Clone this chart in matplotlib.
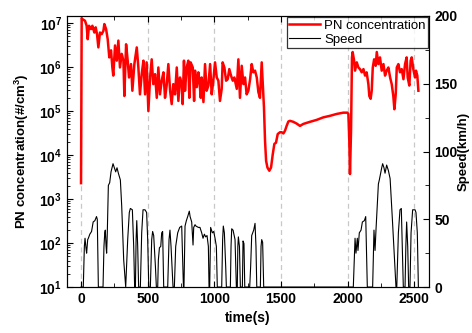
import matplotlib
matplotlib.use('Agg')

import math
import matplotlib.pyplot as plt
from matplotlib.ticker import FuncFormatter, MultipleLocator, LogLocator, FixedLocator, NullFormatter

plt.rcParams['font.family'] = ['Liberation Sans', 'DejaVu Sans']
plt.rcParams['mathtext.fontset'] = 'custom'
plt.rcParams['mathtext.rm'] = 'Liberation Sans:bold'
plt.rcParams['mathtext.bf'] = 'Liberation Sans:bold'
plt.rcParams['mathtext.it'] = 'Liberation Sans:bold'

# PN concentration (#/cm3)
pn_time = [0, 5, 10, 30, 42, 50, 60, 75, 85, 100, 110, 120, 130, 142, 155, 168, 175, 188,
           200, 212, 225, 235, 242, 255, 268, 280, 292, 305, 318, 325, 338, 350, 360, 375,
           385, 400, 418, 430, 442, 455, 468, 480, 492, 505, 518, 530, 542, 555, 568, 580,
           592, 605, 618, 630, 642, 655, 668, 680, 692, 705, 718, 730, 742, 755, 762, 772,
           780, 792, 805, 812, 822, 838, 848, 855, 868, 880, 888, 898, 905, 918, 930, 942,
           955, 968, 980, 992, 1005, 1018, 1030, 1042, 1055, 1062, 1075, 1088, 1100, 1112,
           1125, 1138, 1150, 1168, 1180, 1192, 1205, 1218, 1230, 1242, 1255, 1268, 1280,
           1292, 1305, 1318, 1330, 1342, 1355, 1362, 1372, 1380, 1388, 1398, 1412, 1425,
           1438, 1450, 1462, 1475, 1492, 1505, 1518, 1530, 1542, 1555, 1567, 1592, 1617,
           1642, 1667, 1717, 1767, 1817, 1867, 1917, 1967, 1997, 2005, 2012, 2017, 2025,
           2032, 2037, 2048, 2055, 2068, 2080, 2092, 2105, 2118, 2130, 2142, 2155, 2162,
           2172, 2180, 2188, 2198, 2210, 2218, 2230, 2242, 2255, 2268, 2280, 2292, 2305,
           2318, 2330, 2342, 2350, 2360, 2368, 2380, 2392, 2405, 2418, 2430, 2442, 2450,
           2462, 2472, 2480, 2492, 2505, 2512, 2522, 2530]
pn_conc = [2.3e3, 1.3e7, 1.23e7, 1.13e7, 8.7e6, 4.3e6, 8.7e6, 7.3e6, 8.7e6, 6.1e6, 8.0e6,
           5.6e6, 2.8e6, 6.1e6, 5.6e6, 6.7e6, 9.5e6, 7.3e6, 4.3e6, 1.66e6, 2.4e6, 9.8e5,
           6.4e5, 3.1e6, 1.4e6, 4.0e6, 9.8e5, 2.0e6, 1.4e6, 2.2e5, 3.3e6, 1.4e6, 5.8e5,
           1.17e6, 2.9e5, 1.17e6, 2.8e6, 9.8e5, 2.4e5, 6.9e5, 1.4e6, 2.4e5, 1.28e6, 1.0e5,
           5.8e5, 1.5e6, 4.1e5, 6.9e5, 2.0e5, 9.8e5, 2.4e5, 4.9e5, 7.6e5, 2.0e5, 3.8e5,
           1.17e6, 2.9e5, 1.44e5, 4.1e5, 2.4e5, 9.8e5, 1.7e5, 5.8e5, 4.1e5, 1.44e5, 1.4e6,
           2.9e5, 9.8e5, 1.4e6, 2.0e5, 1.28e6, 9.8e5, 1.7e5, 8.3e5, 3.5e5, 7.6e5, 4.9e5,
           2.0e5, 5.8e5, 1.6e5, 1.17e6, 2.9e5, 3.8e5, 1.17e6, 2.4e5, 4.9e5, 1.28e6, 5.8e5,
           4.9e5, 1.7e5, 3.2e5, 1.28e6, 9.8e5, 4.9e5, 5.3e5, 9.0e5, 6.4e5, 4.9e5, 5.8e5,
           3.2e5, 1.5e6, 2.0e5, 1.07e6, 4.1e5, 5.8e5, 2.4e5, 2.9e5, 5.3e5, 1.17e6, 7.6e5,
           8.3e5, 5.8e5, 2.7e5, 2.0e5, 1.28e6, 4.9e5, 1.2e5, 2.1e4, 7.4e3, 5.2e3, 4.4e3,
           5.2e3, 1.05e4, 1.8e4, 1.9e4, 3.0e4, 3.3e4, 3.3e4, 3.1e4, 3.6e4, 4.6e4, 5.8e4,
           6.0e4, 5.7e4, 5.2e4, 4.6e4, 5.1e4, 5.7e4, 6.3e4, 7.2e4, 7.8e4, 8.6e4, 9.2e4,
           9.2e4, 8.6e4, 2.1e4, 3.7e3, 3.6e4, 1.66e6, 2.2e6, 1.4e6, 8.3e5, 1.28e6, 9.8e5,
           9.0e5, 7.6e5, 9.0e5, 6.4e5, 7.6e5, 4.1e5, 2.2e5, 1.9e5, 2.9e5, 9.8e5, 1.5e6,
           1.07e6, 2.2e6, 1.17e6, 1.66e6, 8.3e5, 1.17e6, 6.4e5, 8.3e5, 9.8e5, 5.8e5, 4.1e5,
           2.2e5, 1.1e5, 2.4e5, 9.8e5, 1.17e6, 7.6e5, 9.0e5, 5.3e5, 1.17e6, 1.66e6, 5.8e5,
           3.8e5, 1.4e6, 1.66e6, 9.0e5, 5.8e5, 8.3e5, 6.4e5, 2.9e5]

# vehicle speed (km/h)
spd_time = [0, 17, 25, 30, 38, 42, 50, 55, 66, 79, 91, 104, 116, 122, 130,
            165, 172, 178, 182, 188, 192, 197, 205, 215, 225, 240, 250, 260, 270, 280, 295,
            305, 320, 335,
            350, 362, 370, 385, 395, 402, 408, 413, 418, 425, 432, 445, 455, 465, 480, 492,
            500, 508,
            520, 530, 537, 545, 558, 565, 575, 580, 588, 598, 605, 612, 620,
            650, 660, 667, 675, 690, 700, 710, 725, 740, 755, 762, 768,
            772, 780, 790, 800, 812, 818, 830, 840, 845, 855, 862, 880, 892, 905, 915, 925,
            935, 945, 955, 960, 965, 972, 985, 995, 1005, 1015, 1022,
            1055, 1062, 1067, 1075, 1085, 1090, 1120, 1125, 1130, 1140, 1155, 1165,
            1172, 1176, 1180, 1188, 1195, 1210, 1215, 1222, 1228,
            1265, 1272, 1280, 1295, 1305, 1312, 1318, 1345, 1350, 1355, 1362, 1370,
            2042, 2055, 2062, 2072, 2077, 2087, 2100, 2110, 2125, 2135, 2147,
            2187, 2197, 2205, 2212, 2230, 2237, 2255, 2262, 2272, 2280, 2292, 2305, 2318,
            2335, 2362, 2368, 2380, 2392, 2402, 2417, 2430, 2436, 2442, 2450, 2457,
            2467, 2475, 2487, 2505, 2512, 2522, 2530]
spd_val = [0, 0, 30, 36, 28, 25, 35, 36, 39, 41, 48, 49, 52, 50, 0,
           0, 30, 40, 42, 30, 25, 40, 75, 77, 85, 91, 88, 85, 88, 84, 79,
           60, 20, 0,
           35, 55, 58, 57, 30, 0, 0, 35, 49, 30, 0, 0, 40, 57, 57, 55,
           35, 0,
           0, 35, 41, 38, 15, 0, 0, 20, 29, 30, 40, 41, 0,
           0, 35, 42, 30, 0, 0, 30, 40, 44, 45, 20, 0,
           0, 45, 49, 52, 56, 52, 48, 31, 44, 46, 45, 44, 44, 40, 36, 39,
           37, 38, 30, 0, 0, 44, 40, 41, 36, 30, 0,
           0, 35, 45, 40, 15, 0, 0, 30, 43, 42, 35, 0,
           0, 30, 37, 30, 0, 0, 34, 32, 0,
           0, 15, 38, 42, 47, 30, 0, 0, 30, 35, 33, 0,
           0, 36, 25, 36, 27, 40, 42, 48, 49, 52, 0,
           0, 42, 27, 42, 76, 79, 88, 91, 88, 84, 90, 86, 80,
           50, 0, 0, 40, 57, 58, 0, 0, 30, 48, 30, 0,
           0, 40, 57, 57, 55, 40, 0]

xticks = [0, 500, 1000, 1500, 2000, 2500]
pn_ticks = [1e1, 1e2, 1e3, 1e4, 1e5, 1e6, 1e7]

fig = plt.figure(figsize=(4.72, 3.33), dpi=100)
ax = fig.add_axes([0.142, 0.138, 0.767, 0.814])
ax2 = ax.twinx()

# dashed guide lines at the major time ticks
for x in xticks:
    ax.axvline(x, color='#c8c8c8', lw=0.9, ls=(0, (4, 3)), zorder=0)

l1, = ax.plot(pn_time, pn_conc, color='#ff0000', lw=1.8, label='PN concentration', zorder=3)
l2, = ax2.plot(spd_time, spd_val, color='black', lw=0.8, label='Speed')

ax.set_yscale('log')
ax.set_ylim(10, 1.45e7)
ax.set_xlim(-105, 2610)
ax2.set_ylim(0, 200)

ax.set_xticks(xticks)
ax.xaxis.set_minor_locator(MultipleLocator(250))
ax.yaxis.set_major_locator(FixedLocator(pn_ticks))
ax.yaxis.set_minor_locator(LogLocator(base=10, subs=range(2, 10), numticks=10))
ax.yaxis.set_minor_formatter(NullFormatter())
ax.yaxis.set_major_formatter(FuncFormatter(lambda v, p: r'$\mathbf{10^{%d}}$' % round(math.log10(v))))
ax2.yaxis.set_major_locator(MultipleLocator(50))
ax2.yaxis.set_minor_locator(MultipleLocator(25))

ax.tick_params(which='both', direction='in', top=True, labelsize=10)
ax.tick_params(which='major', length=4, width=0.8)
ax.tick_params(which='minor', length=2, width=0.6)
ax.tick_params(axis='x', which='minor', top=True, bottom=True, length=3)
ax2.tick_params(which='both', direction='in', labelsize=10, pad=4)
ax2.tick_params(which='major', length=4, width=0.8)
ax2.tick_params(which='minor', length=3, width=0.6)

for lab in ax.get_xticklabels() + ax2.get_yticklabels():
    lab.set_fontweight('bold')

ax.set_xlabel('time(s)', fontsize=10, fontweight='bold', labelpad=4)
ax.set_ylabel(r'PN concentration(#/cm$^\mathbf{3}$)', fontsize=9.5, fontweight='bold', labelpad=6)
ax2.set_ylabel('Speed(km/h)', fontsize=9.5, fontweight='bold', labelpad=0)

leg = ax2.legend([l1, l2], ['PN concentration', 'Speed'], loc='upper right',
                 fontsize=9.5, frameon=True, fancybox=False, borderpad=0.15,
                 handlelength=2.4, labelspacing=0.15, borderaxespad=0.1, handletextpad=0.3)
leg.get_frame().set_edgecolor('black')
leg.get_frame().set_linewidth(0.9)

plt.savefig('out.png', dpi=100)
